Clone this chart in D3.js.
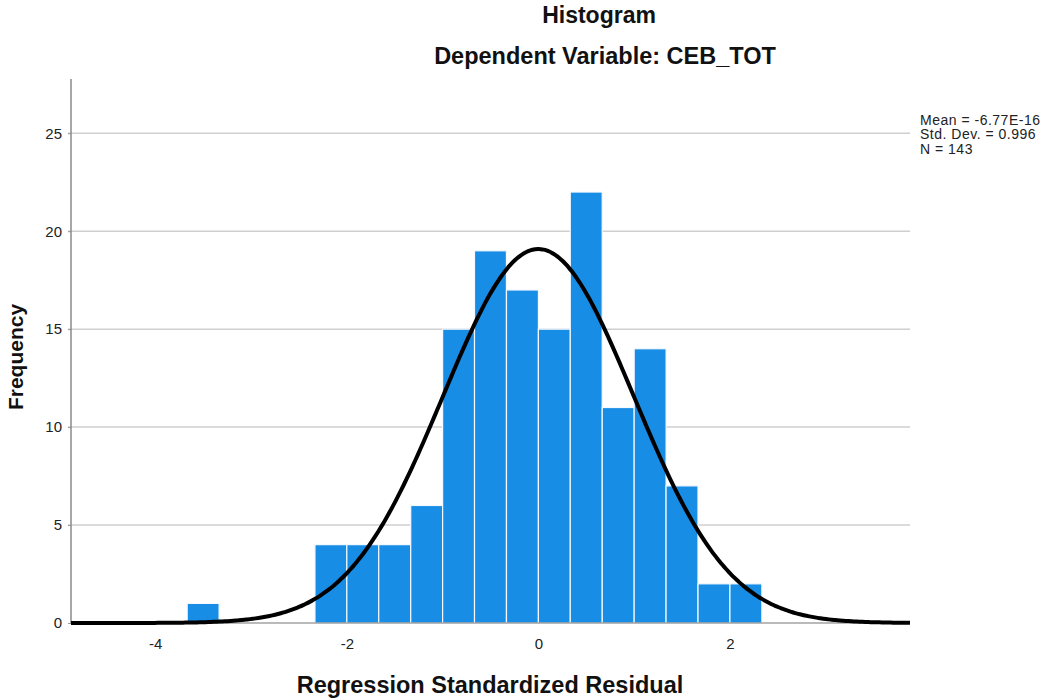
<!DOCTYPE html>
<html>
<head>
<meta charset="utf-8">
<script src="https://cdn.jsdelivr.net/npm/d3@7"></script>
<style>
  body { margin: 0; background: #fff; }
  svg { display: block; font-family: Arial, 'Liberation Sans', sans-serif; }
</style>
</head>
<body>
<div id="chart"></div>
<script>
// datos del histograma (residuos estandarizados)
let binLows = [-3.667, -3.333, -3.0, -2.667, -2.333, -2.0, -1.667, -1.333, -1.0, -0.667, -0.333, 0.0, 0.333, 0.667, 1.0, 1.333, 1.667, 2.0];
let binWidth = 0.3333;
let counts = [1, 0, 0, 0, 4, 4, 4, 6, 15, 19, 17, 15, 22, 11, 14, 7, 2, 2];
let yTicks = [0, 5, 10, 15, 20, 25];
let xTicks = [-4, -2, 0, 2];
let statMean = -6.77e-16, statSd = 0.996, statN = 143;
let statLines = ['Mean = -6.77E-16', 'Std. Dev. = 0.996', 'N = 143'];

let W = 1044, H = 700;
let margin = {top: 79, right: 134, bottom: 77, left: 71};
let width = W - margin.left - margin.right,
    height = H - margin.top - margin.bottom;
let fontFam = "Arial, 'Liberation Sans', sans-serif";

let svg = d3.select('#chart').append('svg')
    .attr('width', W)
    .attr('height', H);

let chart = svg.append('g')
    .attr('transform', 'translate(' + margin.left + ',' + margin.top + ')');

let x = d3.scaleLinear().domain([-4.88, 3.88]).range([0, width]);
let y = d3.scaleLinear().domain([0, 27.77]).range([height, 0]);

//Rejilla
chart.append('g')
    .selectAll('line')
    .data(yTicks.slice(1))
    .enter()
    .append('line')
    .attr('x1', -3)
    .attr('x2', width)
    .attr('y1', function(d) { return y(d); })
    .attr('y2', function(d) { return y(d); })
    .attr('stroke', '#cfcfcf')
    .attr('stroke-width', 1.5);

//Barras
let bins = binLows.map(function(d, i) { return {x0: d, x1: d + binWidth, n: counts[i]}; })
    .filter(function(d) { return d.n > 0; });

chart.selectAll('.bar')
    .data(bins)
    .enter()
    .append('rect')
    .attr('class', 'bar')
    .attr('x', function(d) { return x(d.x0); })
    .attr('width', function(d) { return x(d.x1) - x(d.x0); })
    .attr('y', function(d) { return y(d.n); })
    .attr('height', function(d) { return y(0) - y(d.n); })
    .attr('fill', '#188de6')
    .attr('stroke', '#f4f9ff')
    .attr('stroke-width', 1.2);

//Ejes
let yAxis = chart.append('g')
    .call(d3.axisLeft(y).tickValues(yTicks).tickFormat(function(d) { return String(d); }).tickSize(3).tickPadding(6));
yAxis.select('.domain').remove();
yAxis.selectAll('line').attr('stroke', '#999');
yAxis.selectAll('text').attr('font-size', 15).attr('fill', '#222').attr('font-family', fontFam);

let xAxis = chart.append('g')
    .attr('transform', 'translate(0,' + height + ')')
    .call(d3.axisBottom(x).tickValues(xTicks).tickFormat(function(d) { return String(d); }).tickSize(0).tickPadding(15));
xAxis.select('.domain').remove();
xAxis.selectAll('text').attr('font-size', 15).attr('fill', '#222').attr('font-family', fontFam);

chart.append('line')
    .attr('x1', 0).attr('x2', width)
    .attr('y1', height).attr('y2', height)
    .attr('stroke', '#777').attr('stroke-width', 1.2);

chart.append('line')
    .attr('x1', 0).attr('x2', 0)
    .attr('y1', 0).attr('y2', height)
    .attr('stroke', '#8a8a8a').attr('stroke-width', 1.5);

//Curva normal
let curveData = d3.range(0, 301).map(function(i) {
    let v = x.domain()[0] + (x.domain()[1] - x.domain()[0]) * i / 300;
    let z = (v - statMean) / statSd;
    return {v: v, f: statN * binWidth * Math.exp(-0.5 * z * z) / (statSd * Math.sqrt(2 * Math.PI))};
});

let line = d3.line()
    .x(function(d) { return x(d.v); })
    .y(function(d) { return y(d.f); })
    .curve(d3.curveBasis);

chart.append('path')
    .datum(curveData)
    .attr('fill', 'none')
    .attr('stroke', '#000')
    .attr('stroke-width', 4)
    .attr('d', line);

//Títulos
svg.append('text')
    .attr('x', 599).attr('y', 23)
    .attr('text-anchor', 'middle')
    .attr('font-size', 23).attr('font-weight', 'bold').attr('fill', '#111')
    .text('Histogram');

svg.append('text')
    .attr('x', 605).attr('y', 64)
    .attr('text-anchor', 'middle')
    .attr('font-size', 23.5).attr('font-weight', 'bold').attr('fill', '#111')
    .text('Dependent Variable: CEB_TOT');

svg.append('text')
    .attr('x', 490).attr('y', 693)
    .attr('text-anchor', 'middle')
    .attr('font-size', 23.5).attr('font-weight', 'bold').attr('fill', '#111')
    .text('Regression Standardized Residual');

svg.append('text')
    .attr('transform', 'translate(23,357) rotate(-90)')
    .attr('text-anchor', 'middle')
    .attr('font-size', 21).attr('font-weight', 'bold').attr('fill', '#111')
    .text('Frequency');

//Estadísticos
svg.append('g').selectAll('text')
    .data(statLines)
    .enter()
    .append('text')
    .attr('x', 920)
    .attr('y', function(d, i) { return 124.5 + i * 14.5; })
    .attr('font-size', 14)
    .attr('letter-spacing', 0.5)
    .attr('fill', '#222')
    .text(function(d) { return d; });
</script>
</body>
</html>
